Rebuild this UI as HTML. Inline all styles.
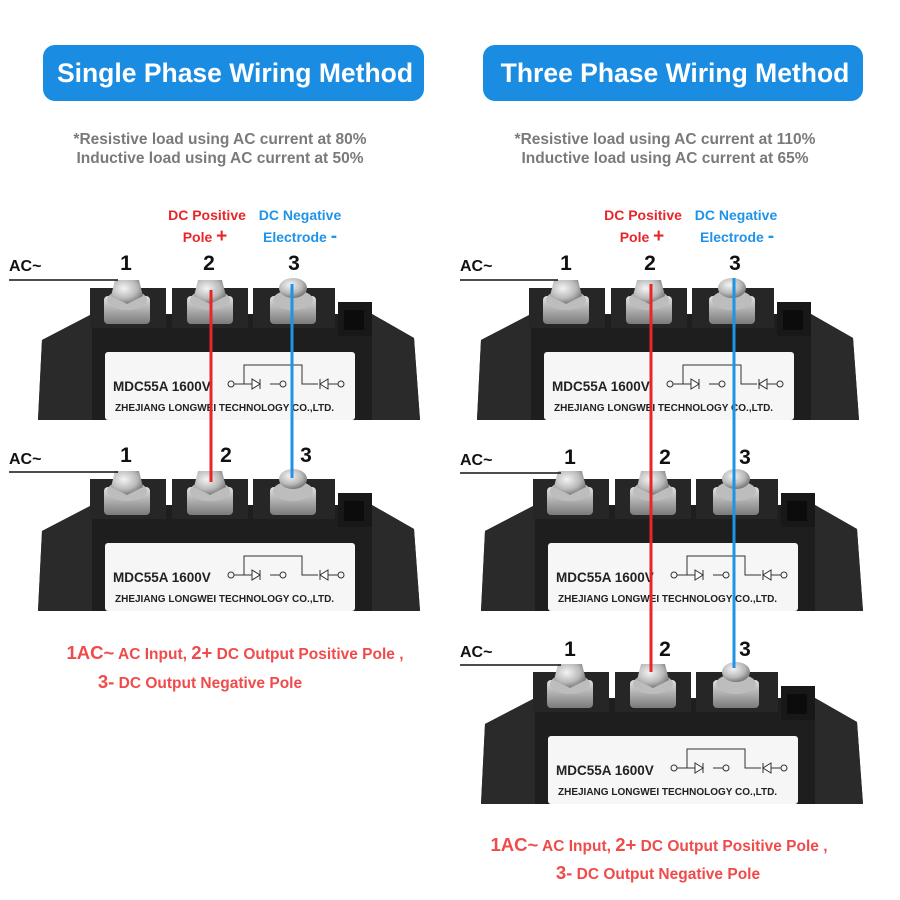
<!DOCTYPE html>
<html><head><meta charset="utf-8"><style>
html,body{margin:0;padding:0;background:#fff;}
svg{display:block;font-family:"Liberation Sans",Arial,sans-serif;}
</style></head><body>
<svg width="900" height="900" viewBox="0 0 900 900" xmlns="http://www.w3.org/2000/svg">
<defs>
<radialGradient id="nut" cx="40%" cy="35%" r="70%"><stop offset="0" stop-color="#f4f4f4"/><stop offset="0.6" stop-color="#b9b9b9"/><stop offset="1" stop-color="#6d6d6d"/></radialGradient>
<linearGradient id="wash" x1="0" y1="0" x2="0" y2="1"><stop offset="0" stop-color="#e0e0e0"/><stop offset="1" stop-color="#7a7a7a"/></linearGradient>
<g id="mod">
  <polygon points="38,420 42,340 92,314 372,314 414,338 420,420" fill="#1e1e1e"/>
  <polygon points="38,420 42,340 92,314 92,420" fill="#2a2a2a"/>
  <polygon points="372,314 414,338 420,420 372,420" fill="#2a2a2a"/>
  <rect x="90" y="288" width="76" height="40" fill="#262626"/>
  <rect x="172" y="288" width="76" height="40" fill="#262626"/>
  <rect x="253" y="288" width="82" height="40" fill="#262626"/>
  <rect x="338" y="302" width="34" height="34" fill="#181818"/>
  <rect x="344" y="310" width="20" height="20" fill="#0c0c0c"/>
  <g>
    <rect x="104" y="296" width="46" height="28" rx="4" fill="url(#wash)"/>
    <ellipse cx="127" cy="300" rx="20" ry="10" fill="#bdbdbd"/>
    <polygon points="115,280 139,280 143,296 127,304 111,296" fill="url(#nut)"/>
  </g>
  <g>
    <rect x="187" y="296" width="46" height="28" rx="4" fill="url(#wash)"/>
    <ellipse cx="210" cy="300" rx="20" ry="10" fill="#bdbdbd"/>
    <polygon points="198,280 222,280 226,296 210,304 194,296" fill="url(#nut)"/>
  </g>
  <g>
    <rect x="270" y="296" width="46" height="28" rx="4" fill="url(#wash)"/>
    <ellipse cx="293" cy="300" rx="20" ry="10" fill="#bdbdbd"/>
    <ellipse cx="293" cy="288" rx="14" ry="10" fill="url(#nut)"/>
  </g>
  <rect x="105" y="352" width="250" height="68" rx="3" fill="#f6f6f6"/>
  <g stroke="#333" stroke-width="1" fill="none">
    <path d="M234 384 H260 M270 384 H280 M244 384 V365 H302 V384 H318 M328 384 H338"/>
    <polygon points="252,379 252,389 260,384" fill="#fff"/>
    <path d="M260 379 V389"/>
    <polygon points="328,379 328,389 320,384" fill="#fff"/>
    <path d="M320 379 V389"/>
    <circle cx="231" cy="384" r="3"/><circle cx="283" cy="384" r="3"/><circle cx="341" cy="384" r="3"/>
  </g>
</g>
</defs>

<rect x="43" y="45" width="381" height="56" rx="12" fill="#1a8de3"/>
<text x="235" y="82" font-size="26.5" font-weight="bold" fill="#fff" text-anchor="middle">Single Phase Wiring Method</text>
<rect x="483" y="45" width="380" height="56" rx="12" fill="#1a8de3"/>
<text x="675" y="82" font-size="26.5" font-weight="bold" fill="#fff" text-anchor="middle">Three Phase Wiring Method</text>

<g font-size="15.5" font-weight="bold" fill="#7a7a7a" text-anchor="middle">
<text x="220" y="144">*Resistive load using AC current at 80%</text>
<text x="220" y="163">Inductive load using AC current at 50%</text>
<text x="665" y="144">*Resistive load using AC current at 110%</text>
<text x="665" y="163">Inductive load using AC current at 65%</text>
</g>

<use href="#mod"/>
<use href="#mod" transform="translate(0,191)"/>
<use href="#mod" transform="translate(439,0)"/>
<use href="#mod" transform="translate(443,191)"/>
<use href="#mod" transform="translate(443,384)"/>

<g font-weight="bold" fill="#222">
<text x="113" y="391" font-size="13.5">MDC55A 1600V</text>
<text x="115" y="411" font-size="10">ZHEJIANG LONGWEI TECHNOLOGY CO.,LTD.</text>
<text x="113" y="582" font-size="13.5">MDC55A 1600V</text>
<text x="115" y="602" font-size="10">ZHEJIANG LONGWEI TECHNOLOGY CO.,LTD.</text>
<text x="552" y="391" font-size="13.5">MDC55A 1600V</text>
<text x="554" y="411" font-size="10">ZHEJIANG LONGWEI TECHNOLOGY CO.,LTD.</text>
<text x="556" y="582" font-size="13.5">MDC55A 1600V</text>
<text x="558" y="602" font-size="10">ZHEJIANG LONGWEI TECHNOLOGY CO.,LTD.</text>
<text x="556" y="775" font-size="13.5">MDC55A 1600V</text>
<text x="558" y="795" font-size="10">ZHEJIANG LONGWEI TECHNOLOGY CO.,LTD.</text>
</g>

<g stroke-width="3">
<line x1="211" y1="290" x2="211" y2="482" stroke="#e8262a"/>
<line x1="292" y1="284" x2="292" y2="478" stroke="#1f93e8"/>
<line x1="651" y1="284" x2="651" y2="672" stroke="#e8262a"/>
<line x1="734" y1="278" x2="734" y2="668" stroke="#1f93e8"/>
</g>

<g stroke="#111" stroke-width="1.5">
<line x1="9" y1="280" x2="118" y2="280"/>
<line x1="9" y1="472" x2="118" y2="472"/>
<line x1="460" y1="280" x2="558" y2="280"/>
<line x1="460" y1="473" x2="561" y2="473"/>
<line x1="460" y1="665" x2="561" y2="665"/>
</g>
<g font-weight="bold" fill="#111">
<g font-size="16">
<text x="9" y="271">AC~</text><text x="9" y="464">AC~</text>
<text x="460" y="271">AC~</text><text x="460" y="465">AC~</text><text x="460" y="657">AC~</text>
</g>
<g font-size="21" text-anchor="middle">
<text x="126" y="270">1</text><text x="209" y="270">2</text><text x="294" y="270">3</text>
<text x="126" y="462">1</text><text x="226" y="462">2</text><text x="306" y="462">3</text>
<text x="566" y="270">1</text><text x="650" y="270">2</text><text x="735" y="270">3</text>
<text x="570" y="464">1</text><text x="665" y="464">2</text><text x="745" y="464">3</text>
<text x="570" y="656">1</text><text x="665" y="656">2</text><text x="745" y="656">3</text>
</g>
</g>

<g font-size="14" font-weight="bold" text-anchor="middle">
<text x="207" y="220" fill="#e8262a">DC Positive</text>
<text x="205" y="242" fill="#e8262a">Pole <tspan font-size="19">+</tspan></text>
<text x="300" y="220" fill="#1f93e8">DC Negative</text>
<text x="300" y="242" fill="#1f93e8">Electrode <tspan font-size="19">-</tspan></text>
<text x="643" y="220" fill="#e8262a">DC Positive</text>
<text x="642" y="242" fill="#e8262a">Pole <tspan font-size="19">+</tspan></text>
<text x="736" y="220" fill="#1f93e8">DC Negative</text>
<text x="737" y="242" fill="#1f93e8">Electrode <tspan font-size="19">-</tspan></text>
</g>

<g font-weight="bold" fill="#f04a4a" text-anchor="middle" font-size="15.5">
<text x="235" y="659"><tspan font-size="18.5">1AC~</tspan> AC Input, <tspan font-size="18.5">2+</tspan> DC Output Positive Pole ,</text>
<text x="200" y="688"><tspan font-size="18.5">3-</tspan>  DC Output Negative Pole</text>
<text x="659" y="851"><tspan font-size="18.5">1AC~</tspan> AC Input, <tspan font-size="18.5">2+</tspan> DC Output Positive Pole ,</text>
<text x="658" y="879"><tspan font-size="18.5">3-</tspan>  DC Output Negative Pole</text>
</g>
</svg>
</body></html>
